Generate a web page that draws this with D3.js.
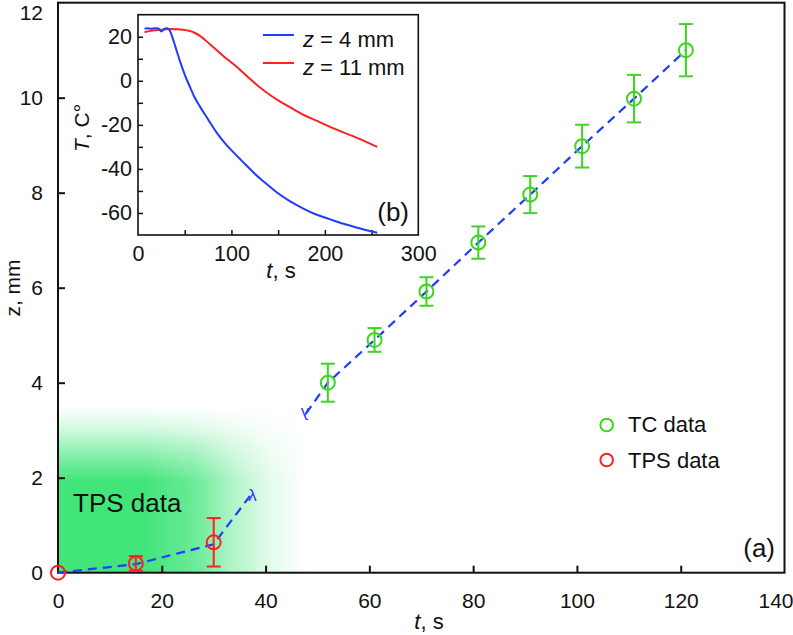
<!DOCTYPE html>
<html><head><meta charset="utf-8">
<script src="https://cdn.jsdelivr.net/npm/d3@7"></script>
<style>
html,body{margin:0;padding:0;background:#fff;}
svg text{font-family:"Liberation Sans", Arial, Helvetica, sans-serif;fill:#111;}
</style></head>
<body>
<svg id="c" width="793" height="635"></svg>
<script>
// ---------- data (main panel a) ----------
const tcT   = [52, 61, 71, 81, 91, 101, 111, 121];
const tcZ   = [4.0, 4.9, 5.92, 6.95, 7.96, 8.98, 9.98, 11.0];
const tcErr = [0.4, 0.25, 0.3, 0.34, 0.39, 0.45, 0.5, 0.55];
const tpsT   = [0, 15, 30];
const tpsZ   = [0, 0.195, 0.64];
const tpsErr = [0, 0.155, 0.51];
const fit1T = [0, 15, 30, 37.3];
const fit1Z = [0, 0.18, 0.6, 1.66];
const fit2T = [47.8, 52, 61, 71, 81, 91, 101, 111, 121];
const fit2Z = [3.35, 4.0, 4.9, 5.92, 6.95, 7.96, 8.98, 9.98, 11.0];
const tpsRegionT = [0, 48];
const tpsRegionZ = [0, 3.5];
const xTicks = [0, 20, 40, 60, 80, 100, 120, 140];
const yTicks = [0, 2, 4, 6, 8, 10, 12];
const legendLabels = ["TC data", "TPS data"];
// ---------- data (inset b) ----------
const blueT = [7, 10, 14, 18, 22, 25, 28, 31, 34, 37, 40, 45, 50, 55.6, 60, 66, 75, 84, 93, 102, 115, 127, 138, 148, 162, 177, 190, 205, 220, 235, 256];
const blueV = [23.6, 23.9, 23.6, 23.8, 23.7, 22.4, 23.6, 23.9, 22.8, 19.5, 15.5, 8.8, 2.8, -2.8, -7, -11.5, -17.5, -23.4, -28.3, -32.4, -38, -43, -47, -50.5, -54.5, -58, -60.6, -62.8, -64.9, -66.7, -69];
const redT = [7, 9.3, 15, 21.7, 28, 34, 41.4, 48, 55.6, 61, 66.3, 77, 91.2, 102, 116.2, 127, 137.6, 150, 162.6, 176, 191, 205, 219.6, 235, 256];
const redV = [22.2, 22.3, 22.8, 23.0, 23.3, 23.5, 23.4, 23.2, 22.6, 21.7, 20.4, 16.6, 11.3, 7.6, 2.3, -1.8, -5.3, -8.9, -12, -15.2, -18.1, -20.8, -23.4, -26, -30];
const insetXTicks = [0, 50, 100, 150, 200, 250, 300];
const insetXLabels = [0, 100, 200, 300];
const insetYTicks = [-60, -50, -40, -30, -20, -10, 0, 10, 20];
const insetYLabels = [-60, -40, -20, 0, 20];
const insetLegend = ["4 mm", "11 mm"];

const GREEN = "#3cd620", RED = "#ff2020", BLUE = "#1f3cff";
const svg = d3.select("#c");
const defs = svg.append("defs");

// ---------- main scales ----------
const W = {l: 58, r: 784.5, t: 2.7, b: 572.7};
const x = d3.scaleLinear().domain([0, 140]).range([W.l, W.r]);
const y = d3.scaleLinear().domain([0, 12]).range([W.b, W.t]);

// green gradient region
const vg = defs.append("linearGradient").attr("id", "vg").attr("x1", 0).attr("y1", 1).attr("x2", 0).attr("y2", 0);
[[0, 1], [0.55, 1], [0.72, 0.6], [0.87, 0.22], [1, 0]].forEach(s => vg.append("stop").attr("offset", s[0]).attr("stop-color", "#42e57a").attr("stop-opacity", s[1]));
const hg = defs.append("linearGradient").attr("id", "hg").attr("x1", 0).attr("y1", 0).attr("x2", 1).attr("y2", 0);
[[0, 1], [0.35, 1], [0.55, 0.78], [0.7, 0.42], [0.85, 0.15], [1, 0]].forEach(s => hg.append("stop").attr("offset", s[0]).attr("stop-color", "#fff").attr("stop-opacity", s[1]));
const mask = defs.append("mask").attr("id", "hm").attr("maskUnits", "userSpaceOnUse")
  .attr("x", 0).attr("y", 0).attr("width", 793).attr("height", 635);
mask.append("rect").attr("x", x(tpsRegionT[0])).attr("y", y(tpsRegionZ[1]))
  .attr("width", x(tpsRegionT[1]) - x(tpsRegionT[0])).attr("height", y(tpsRegionZ[0]) - y(tpsRegionZ[1]))
  .attr("fill", "url(#hg)");
svg.append("rect").attr("x", x(tpsRegionT[0])).attr("y", y(tpsRegionZ[1]))
  .attr("width", x(tpsRegionT[1]) - x(tpsRegionT[0])).attr("height", y(tpsRegionZ[0]) - y(tpsRegionZ[1]))
  .attr("fill", "url(#vg)").attr("mask", "url(#hm)");

// axes
const xAxis = d3.axisBottom(x).tickValues(xTicks).tickSizeInner(-7).tickSizeOuter(0).tickPadding(20);
const gx = svg.append("g").attr("transform", `translate(0,${W.b})`).call(xAxis);
const yAxis = d3.axisLeft(y).tickValues(yTicks).tickSizeInner(-7).tickSizeOuter(0).tickPadding(15);
const gy = svg.append("g").attr("transform", `translate(${W.l},0)`).call(yAxis);
[gx, gy].forEach(g => {
  g.select(".domain").remove();
  g.selectAll(".tick line").attr("stroke", "#111").attr("stroke-width", 2);
  g.selectAll(".tick text").attr("font-size", 21).attr("fill", "#111")
    .style("font-family", "'Liberation Sans', Arial, sans-serif");
});
gx.selectAll(".tick").filter(d => d === 0 || d === 140).select("line").remove();
gy.selectAll(".tick").filter(d => d === 0 || d === 12).select("line").remove();
gx.selectAll(".tick").filter(d => d === 140).select("text").attr("dx", -9);
gy.selectAll(".tick").filter(d => d === 12).select("text").attr("y", 10);
svg.append("rect").attr("x", W.l).attr("y", W.t).attr("width", W.r - W.l).attr("height", W.b - W.t)
  .attr("fill", "none").attr("stroke", "#111").attr("stroke-width", 2);

// axis titles
const xt = svg.append("text").attr("x", 429).attr("y", 629).attr("text-anchor", "middle").attr("font-size", 22);
xt.append("tspan").attr("font-style", "italic").text("t");
xt.append("tspan").text(", s");
svg.append("text").attr("transform", "translate(20,288) rotate(-90)").attr("text-anchor", "middle")
  .attr("font-size", 21).text("z, mm");

// dashed fit lines
const line = d3.line().x(d => x(d[0])).y(d => y(d[1]));
[[fit1T, fit1Z], [fit2T, fit2Z]].forEach(([T, Z]) => {
  svg.append("path").datum(T.map((t, i) => [t, Z[i]])).attr("d", line)
    .attr("fill", "none").attr("stroke", BLUE).attr("stroke-width", 2.2).attr("stroke-dasharray", "9,6");
});
// end glyphs
svg.append("text").attr("x", x(fit1T[fit1T.length - 1]) + 1).attr("y", y(fit1Z[fit1Z.length - 1]) + 7)
  .attr("text-anchor", "middle").attr("font-size", 17).style("fill", BLUE).text("λ");
svg.append("text").attr("transform", `translate(${x(fit2T[0]) - 1},${y(fit2Z[0]) - 6}) rotate(180)`)
  .attr("text-anchor", "middle").attr("font-size", 17).style("fill", BLUE).text("λ");

// error bars + markers
function drawSeries(T, Z, E, color) {
  const g = svg.append("g");
  T.forEach((t, i) => {
    if (E[i] > 0) {
      const cx = x(t), y1 = y(Z[i] + E[i]), y2 = y(Z[i] - E[i]);
      g.append("line").attr("x1", cx).attr("x2", cx).attr("y1", y1).attr("y2", y2).attr("stroke", color).attr("stroke-width", 2);
      [y1, y2].forEach(yy => g.append("line").attr("x1", cx - 7).attr("x2", cx + 7).attr("y1", yy).attr("y2", yy).attr("stroke", color).attr("stroke-width", 2));
    }
    g.append("circle").attr("cx", x(t)).attr("cy", y(Z[i])).attr("r", 7).attr("fill", "none").attr("stroke", color).attr("stroke-width", 2);
  });
}
drawSeries(tpsT, tpsZ, tpsErr, RED);
drawSeries(tcT, tcZ, tcErr, GREEN);

// legend
[[GREEN, 425, 432], [RED, 460, 467.5]].forEach((d, i) => {
  svg.append("circle").attr("cx", 606.7).attr("cy", d[1]).attr("r", 6.3).attr("fill", "none").attr("stroke", d[0]).attr("stroke-width", 2);
  svg.append("text").attr("x", 628).attr("y", d[2]).attr("font-size", 22).text(legendLabels[i]);
});
svg.append("text").attr("x", 73).attr("y", 512).attr("font-size", 26).text("TPS data");
svg.append("text").attr("x", 775).attr("y", 557).attr("text-anchor", "end").attr("font-size", 26).text("(a)");

// ---------- inset ----------
const I = {l: 138, r: 418.3, t: 14.7, b: 235};
const ix = d3.scaleLinear().domain([0, 300]).range([I.l, I.r]);
const iy = d3.scaleLinear().domain([-70, 30]).range([I.b, I.t]);
svg.append("rect").attr("x", I.l).attr("y", I.t).attr("width", I.r - I.l).attr("height", I.b - I.t).attr("fill", "#fff");
const ixAxis = d3.axisBottom(ix).tickValues(insetXTicks).tickSizeInner(-5).tickSizeOuter(0).tickPadding(11)
  .tickFormat(d => insetXLabels.includes(d) ? d : "");
const gix = svg.append("g").attr("transform", `translate(0,${I.b})`).call(ixAxis);
const iyAxis = d3.axisLeft(iy).tickValues(insetYTicks).tickSizeInner(-5).tickSizeOuter(0).tickPadding(6)
  .tickFormat(d => insetYLabels.includes(d) ? d : "");
const giy = svg.append("g").attr("transform", `translate(${I.l},0)`).call(iyAxis);
[gix, giy].forEach(g => {
  g.select(".domain").remove();
  g.selectAll(".tick line").attr("stroke", "#111").attr("stroke-width", 1.5);
  g.selectAll(".tick text").attr("font-size", 21.5).attr("fill", "#111")
    .style("font-family", "'Liberation Sans', Arial, sans-serif");
});
gix.selectAll(".tick").filter(d => d === 0 || d === 300).select("line").remove();
svg.append("rect").attr("x", I.l).attr("y", I.t).attr("width", I.r - I.l).attr("height", I.b - I.t)
  .attr("fill", "none").attr("stroke", "#111").attr("stroke-width", 1.6);

const iline = d3.line().x(d => ix(d[0])).y(d => iy(d[1])).curve(d3.curveMonotoneX);
svg.append("path").datum(redT.map((t, i) => [t, redV[i]])).attr("d", iline)
  .attr("fill", "none").attr("stroke", RED).attr("stroke-width", 2);
svg.append("path").datum(blueT.map((t, i) => [t, blueV[i]])).attr("d", iline)
  .attr("fill", "none").attr("stroke", BLUE).attr("stroke-width", 2);

// inset legend
[[BLUE, 35, 47], [RED, 63, 74.5]].forEach((d, i) => {
  svg.append("line").attr("x1", 263).attr("x2", 294).attr("y1", d[1]).attr("y2", d[1]).attr("stroke", d[0]).attr("stroke-width", 2);
  const t = svg.append("text").attr("x", 303).attr("y", d[2]).attr("font-size", 22);
  t.append("tspan").attr("font-style", "italic").text("z");
  t.append("tspan").text(" = " + insetLegend[i]);
});
svg.append("text").attr("x", 409).attr("y", 221).attr("text-anchor", "end").attr("font-size", 26).text("(b)");
const ixt = svg.append("text").attr("x", 281).attr("y", 278).attr("text-anchor", "middle").attr("font-size", 22);
ixt.append("tspan").attr("font-style", "italic").text("t");
ixt.append("tspan").text(", s");
const iyt = svg.append("text").attr("transform", "translate(89,128) rotate(-90)").attr("text-anchor", "middle").attr("font-size", 21);
iyt.append("tspan").attr("font-style", "italic").text("T");
iyt.append("tspan").text(", C°");
</script>
</body></html>
